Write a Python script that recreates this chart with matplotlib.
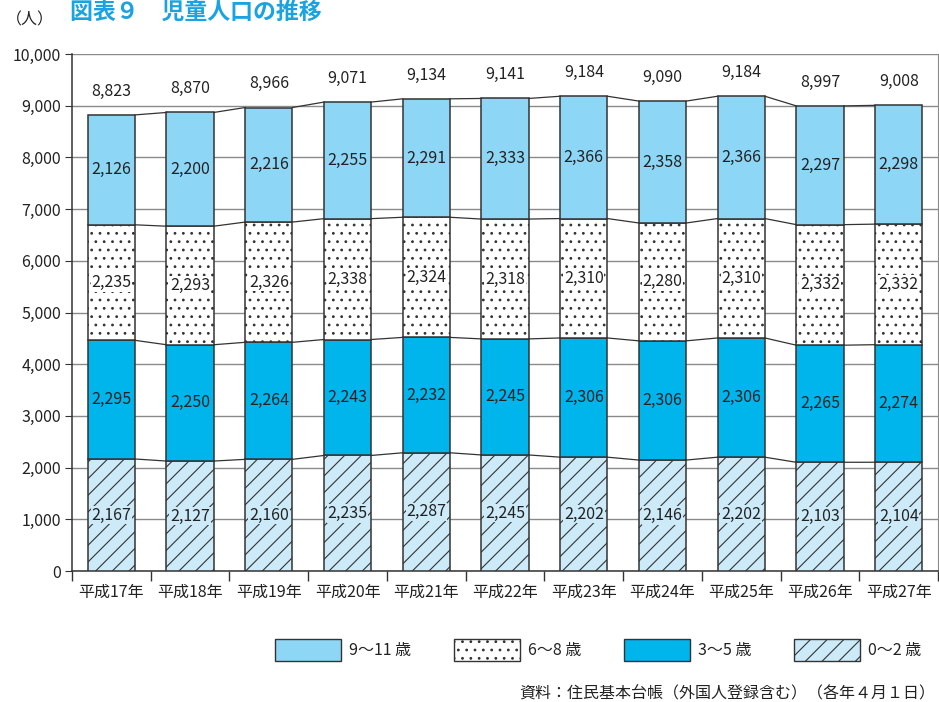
import matplotlib
matplotlib.use("Agg")
import matplotlib.pyplot as plt
from matplotlib.patches import Patch
from matplotlib.ticker import FuncFormatter, MultipleLocator, FixedLocator
import numpy as np

plt.rcParams['font.family'] = ['Noto Sans CJK JP', 'DejaVu Sans']
plt.rcParams['hatch.linewidth'] = 0.8

categories = ["平成17年", "平成18年", "平成19年", "平成20年", "平成21年", "平成22年",
              "平成23年", "平成24年", "平成25年", "平成26年", "平成27年"]
age_0_2 = [2167, 2127, 2160, 2235, 2287, 2245, 2202, 2146, 2202, 2103, 2104]
age_3_5 = [2295, 2250, 2264, 2243, 2232, 2245, 2306, 2306, 2306, 2265, 2274]
age_6_8 = [2235, 2293, 2326, 2338, 2324, 2318, 2310, 2280, 2310, 2332, 2332]
age_9_11 = [2126, 2200, 2216, 2255, 2291, 2333, 2366, 2358, 2366, 2297, 2298]
totals = [8823, 8870, 8966, 9071, 9134, 9141, 9184, 9090, 9184, 8997, 9008]

series = [
    ("0～2 歳", age_0_2, "#cdeaf8", "//"),
    ("3～5 歳", age_3_5, "#00b5ec", None),
    ("6～8 歳", age_6_8, "#ffffff", ".."),
    ("9～11 歳", age_9_11, "#8ed6f5", None),
]

fig = plt.figure(figsize=(9.39, 7.02), dpi=100)
ax = fig.add_axes([0.0767, 0.1866, 0.9223, 0.7364])

x = np.arange(len(categories))
width = 0.6
bottom = np.zeros(len(categories))
edge = "#333333"
handles = {}
for name, vals, color, hatch in series:
    vals = np.array(vals, dtype=float)
    bars = ax.bar(x, vals, width, bottom=bottom, color=color, edgecolor=edge,
                  linewidth=1.1, hatch=hatch, zorder=3, label=name)
    handles[name] = bars
    for xi, b, v in zip(x, bottom, vals):
        ax.text(xi, b + v / 2, f"{int(v):,}", ha="center", va="center",
                fontsize=11.5, color="#222222", zorder=5,
                bbox=dict(boxstyle="square,pad=0.05", facecolor=color, edgecolor="none"))
    bottom = bottom + vals
    for i in range(len(x) - 1):
        ax.plot([x[i] + width / 2, x[i + 1] - width / 2], [bottom[i], bottom[i + 1]],
                color=edge, linewidth=0.9, zorder=4)

for xi, t in zip(x, totals):
    ax.annotate(f"{t:,}", (xi, t), xytext=(0, 17), textcoords="offset points",
                ha="center", va="center", fontsize=11.5, color="#222222")

ax.set_xlim(-0.5, len(categories) - 0.5)
ax.set_ylim(0, 10000)
ax.yaxis.set_major_locator(MultipleLocator(1000))
ax.yaxis.set_major_formatter(FuncFormatter(lambda v, p: f"{int(v):,}"))
ax.set_xticks(x)
ax.set_xticklabels(categories, fontsize=11.5, color="#222222")
ax.tick_params(axis="x", which="major", length=0, pad=9)
ax.xaxis.set_minor_locator(FixedLocator(np.arange(-0.5, len(categories), 1.0)))
ax.tick_params(axis="x", which="minor", length=7, color=edge, width=1)
ax.tick_params(axis="y", length=5, color=edge, labelsize=11.5, labelcolor="#222222", pad=3)
ax.grid(axis="y", color="#8a8a8a", linewidth=1.0, zorder=0)
ax.set_axisbelow(True)
ax.spines["top"].set_visible(False)
ax.spines["right"].set_color("#8a8a8a")
ax.spines["left"].set_color(edge)
ax.spines["bottom"].set_color(edge)
ax.spines["left"].set_linewidth(1.1)
ax.spines["bottom"].set_linewidth(1.1)

fig.text(0.075, 0.999, "図表９　児童人口の推移", fontsize=16.5, fontweight="bold",
         color="#1aa3e0", ha="left", va="top")
fig.text(0.006, 0.972, "（人）", fontsize=11.5, color="#222222", ha="left", va="center")

order = ["9～11 歳", "6～8 歳", "3～5 歳", "0～2 歳"]
leg_handles = [Patch(facecolor=handles[n].patches[0].get_facecolor(),
                     edgecolor=edge, hatch=handles[n].patches[0].get_hatch(), linewidth=1.0)
               for n in order]
fig.legend(leg_handles, order, loc="center", bbox_to_anchor=(0.637, 0.074), ncol=4,
           frameon=False, fontsize=11.5, handlelength=4.1, handleheight=1.7,
           handletextpad=0.5, columnspacing=2.7, labelcolor="#222222")

fig.text(0.996, 0.0, "資料：住民基本台帳（外国人登録含む）（各年４月１日）",
         fontsize=11.5, color="#222222", ha="right", va="bottom")

fig.savefig("out.png", dpi=100)
